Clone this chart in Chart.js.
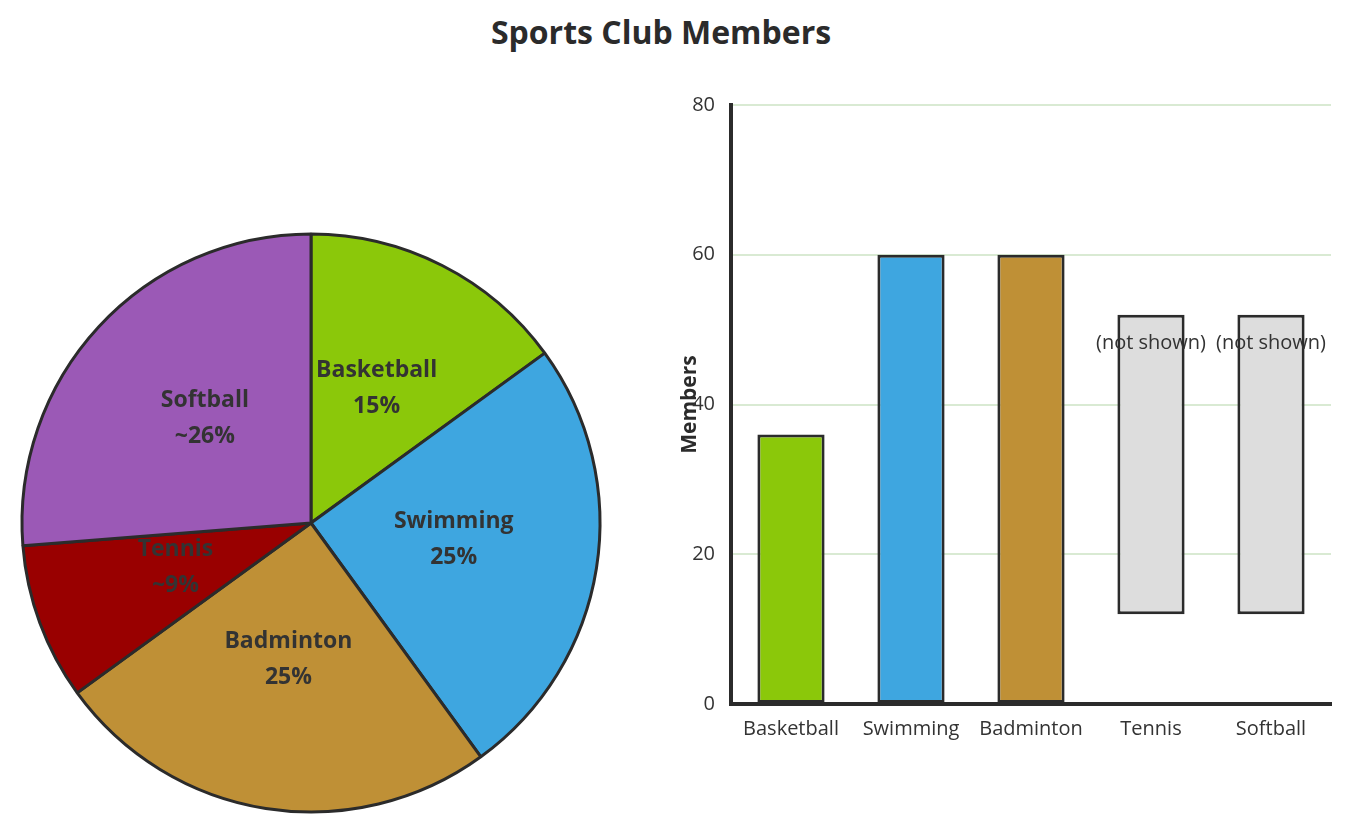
<!DOCTYPE html>
<html>
<head>
<meta charset="utf-8">
<script src="https://cdn.jsdelivr.net/npm/chart.js@4.4.0/dist/chart.umd.min.js"></script>
<style>
  body { margin: 0; background: #fff; font-family: 'Open Sans', sans-serif; }
  .wrap { position: relative; width: 1349px; height: 835px; }
  h1 { position: absolute; left: 0; top: 11px; width: 1322px; margin: 0; text-align: center;
       font-size: 32px; font-weight: 700; color: #2b2b2b; line-height: 42px; }
  #pie { position: absolute; left: 0; top: 212px; }
  #bar { position: absolute; left: 640px; top: 77px; }
</style>
</head>
<body>
<div class="wrap">
  <h1>Sports Club Members</h1>
  <canvas id="pie" width="622" height="622"></canvas>
  <canvas id="bar" width="709" height="683"></canvas>
</div>
<script>
const sports = ['Basketball', 'Swimming', 'Badminton', 'Tennis', 'Softball'];
const colors = ['#8bc80a', '#3ea6e0', '#bf9036', '#990000', '#9b59b6'];
const pieValues = [36, 60, 60, 21, 63];
const pieText = ['15%', '25%', '25%', '~9%', '~26%'];

const barLows = [0, 0, 0, 12, 12];
const barHighs = [36, 60, 60, 52, 52];
const barColors = ['#8bc80a', '#3ea6e0', '#bf9036', '#dddddd', '#dddddd'];
const barNotes = ['', '', '', '(not shown)', '(not shown)'];
const yTicks = [0, 20, 40, 60, 80];

const ink = '#2b2b2b';

const sliceLabels = {
  id: 'sliceLabels',
  afterDatasetsDraw(chart) {
    const { ctx } = chart;
    const meta = chart.getDatasetMeta(0);
    ctx.save();
    ctx.font = '700 23px "Open Sans"';
    ctx.fillStyle = '#333';
    ctx.textAlign = 'center';
    ctx.textBaseline = 'middle';
    meta.data.forEach((arc, i) => {
      const p = arc.tooltipPosition();
      ctx.fillText(sports[i], p.x, p.y - 24);
      ctx.fillText(pieText[i], p.x, p.y + 12);
    });
    ctx.restore();
  }
};

new Chart(document.getElementById('pie'), {
  type: 'pie',
  data: {
    labels: sports,
    datasets: [{
      data: pieValues,
      backgroundColor: colors,
      borderColor: ink,
      borderWidth: 3
    }]
  },
  options: {
    responsive: false,
    animation: false,
    radius: 289,
    layout: { padding: 0 },
    plugins: {
      legend: { display: false },
      tooltip: { enabled: false }
    }
  },
  plugins: [sliceLabels]
});

const barNotesPlugin = {
  id: 'barNotes',
  afterDatasetsDraw(chart) {
    const { ctx } = chart;
    const meta = chart.getDatasetMeta(0);
    ctx.save();
    ctx.font = '20px "Open Sans"';
    ctx.fillStyle = '#333';
    ctx.textAlign = 'center';
    ctx.textBaseline = 'middle';
    meta.data.forEach((bar, i) => {
      if (barNotes[i]) ctx.fillText(barNotes[i], bar.x, bar.y + 29);
    });
    ctx.restore();
  }
};

new Chart(document.getElementById('bar'), {
  type: 'bar',
  data: {
    labels: sports,
    datasets: [{
      data: barLows.map((lo, i) => [lo, barHighs[i]]),
      backgroundColor: barColors,
      borderColor: ink,
      borderWidth: 3,
      borderSkipped: false,
      barPercentage: 0.56,
      categoryPercentage: 1
    }]
  },
  options: {
    responsive: false,
    animation: false,
    layout: { padding: { top: 21, right: 18, bottom: 0, left: 0 } },
    plugins: {
      legend: { display: false },
      tooltip: { enabled: false }
    },
    scales: {
      x: {
        grid: { display: false },
        border: { color: ink, width: 4 },
        ticks: { color: '#333', font: { family: 'Open Sans', size: 20 }, padding: 5 },
        afterFit(scale) { scale.height = 56; }
      },
      y: {
        min: 0,
        max: 80,
        afterBuildTicks(scale) { scale.ticks = yTicks.map(v => ({ value: v })); },
        grid: { color: '#d9ead3', lineWidth: 2, drawTicks: false },
        border: { color: ink, width: 4 },
        ticks: { color: '#333', font: { family: 'Open Sans', size: 20 }, padding: 16 },
        title: {
          display: true,
          text: 'Members',
          color: ink,
          font: { family: 'Open Sans', size: 21, weight: '700' },
          padding: { top: 37, bottom: 0 }
        },
        afterFit(scale) { scale.width = 91; }
      }
    }
  },
  plugins: [barNotesPlugin]
});
</script>
</body>
</html>
